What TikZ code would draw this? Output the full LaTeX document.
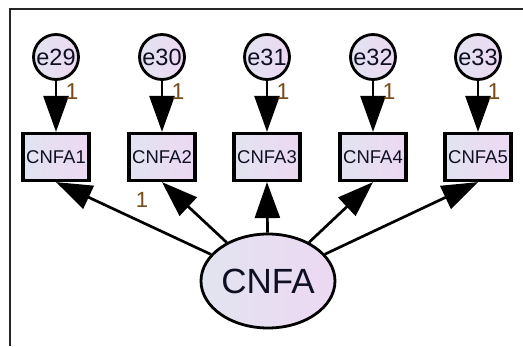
\documentclass[tikz,border=0pt]{standalone}
\usepackage{fontspec}
\setmainfont{Liberation Sans}
\usetikzlibrary{arrows.meta,shapes.geometric}
\definecolor{fillL}{RGB}{226,228,240}
\definecolor{fillR}{RGB}{236,216,242}
\definecolor{valc}{RGB}{120,75,25}
\definecolor{txtc}{RGB}{15,15,35}
\tikzset{
  obs/.style={draw=black, line width=3.2pt, left color=fillL, right color=fillR,
    minimum width=66pt, minimum height=47pt, inner sep=0pt,
    font=\fontsize{18.5}{18.5}\selectfont, text=txtc},
  err/.style={circle, draw=black, line width=2.8pt, left color=fillL, right color=fillR,
    minimum size=45pt, inner sep=0pt, font=\fontsize{23.5}{23.5}\selectfont, text=txtc},
  lat/.style={ellipse, draw=black, line width=2.8pt, left color=fillL, right color=fillR,
    minimum width=134pt, minimum height=94pt, inner sep=0pt,
    font=\fontsize{35}{35}\selectfont, text=txtc},
  path/.style={line width=2.7pt, -{Triangle[length=36pt, width=25pt]}},
  val/.style={text=valc, font=\fontsize{23}{23}\selectfont, inner sep=0pt},
}
\begin{document}
\begin{tikzpicture}[x=1pt, y=-1pt]
  \useasboundingbox (0,0) rectangle (523,346);
  \fill[white] (0,0) rectangle (523,346);
  % outer frame (open to the right and bottom)
  \draw[line width=2pt, black!85] (9.5,346) -- (9.5,9) -- (523,9);

  \foreach \i/\x/\e in {1/56/29, 2/162/30, 3/267/31, 4/373/32, 5/478/33} {
    \node[err] (e\i) at (\x,57) {e\e};
    \node[obs] (v\i) at (\x,157) {CNFA\i};
    \draw[path] (e\i) -- (v\i);
    \node[val] (w\i) at (\x+16,92) {1};
  }

  \node[lat] (f) at (268,281) {CNFA};
  \draw[path] (f) -- (v1.south);
  \draw[path] (f) -- (v2.south);
  \draw[path] (f) -- (v3.south);
  \draw[path] (f) -- (v4.south);
  \draw[path] (f) -- (v5.south);
  \node[val, font=\fontsize{22}{22}\selectfont] (l2) at (142,200) {1};
\end{tikzpicture}
\end{document}
